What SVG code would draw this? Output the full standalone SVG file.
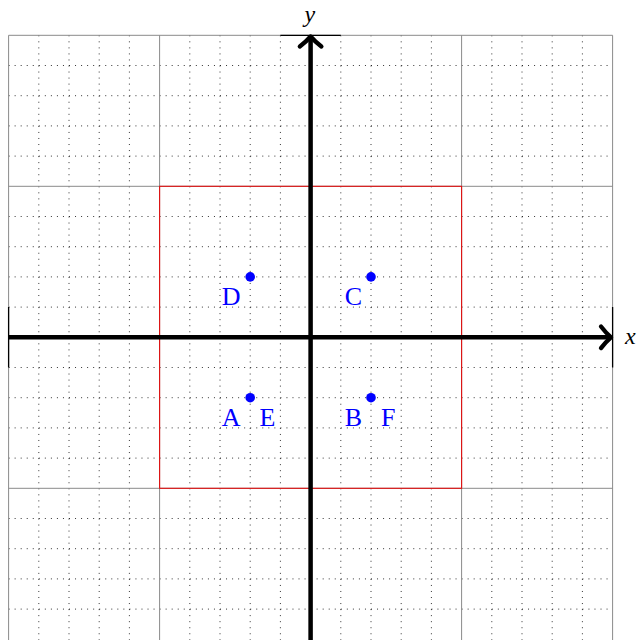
<svg xmlns="http://www.w3.org/2000/svg" width="638" height="640" viewBox="0 0 638 640">
<style>
.minor{stroke:#000;stroke-width:0.8;stroke-dasharray:1 5.04;fill:none}
.major{stroke:#8a8a8a;stroke-width:1;fill:none}
.bar{stroke:#000;stroke-width:1.3;fill:none}
.axis{stroke:#000;stroke-width:4.5;fill:none}
.head{stroke:#000;stroke-width:4.3;fill:none;stroke-linecap:round;stroke-linejoin:round}
.pt{fill:#0000ff}
.lbl{font-family:"Liberation Serif",serif;font-size:26px;fill:#0000ff}
.ax{font-family:"Liberation Serif",serif;font-size:24px;font-style:italic;fill:#000}
</style>
<rect width="638" height="640" fill="#fff"/>
<g id="grid">
<g class="minor">
<path d="M38.8 35.3V640M69 35.3V640M99.2 35.3V640M129.4 35.3V640M189.8 35.3V640M220 35.3V640M250.2 35.3V640M280.4 35.3V640M340.8 35.3V640M371 35.3V640M401.2 35.3V640M431.4 35.3V640M491.8 35.3V640M522 35.3V640M552.2 35.3V640M582.4 35.3V640"/>
<path d="M8.6 65.5H612.6M8.6 95.7H612.6M8.6 125.9H612.6M8.6 156.1H612.6M8.6 216.5H612.6M8.6 246.7H612.6M8.6 276.9H612.6M8.6 307.1H612.6M8.6 367.5H612.6M8.6 397.7H612.6M8.6 427.9H612.6M8.6 458.1H612.6M8.6 518.5H612.6M8.6 548.7H612.6M8.6 578.9H612.6M8.6 609.1H612.6"/>
</g>
<g class="major">
<path d="M8.6 35.3V640M159.6 35.3V640M461.6 35.3V640M612.6 35.3V640"/>
<path d="M8.6 35.3H612.6M8.6 186.3H612.6M8.6 488.3H612.6"/>
</g>
</g>
<rect id="square" x="159.6" y="186.3" width="302" height="302" fill="none" stroke="#e01010" stroke-width="1.1"/>
<g id="connectors">
<path class="bar" d="M8.6 307.1V367.5M612.6 307.1V367.5M280.4 35.3H340.8"/>
<path class="axis" d="M8.6 337.3H610M310.6 640V38"/>
<path class="head" d="M601 326.5Q606 333 611 337.3Q606 341.6 601 348.1"/>
<path class="head" d="M299.8 46.5Q306.3 41.5 310.6 36.5Q314.9 41.5 321.4 46.5"/>
</g>
<g id="labels-axes">
<text class="ax" x="625" y="344">x</text>
<text class="ax" x="304.5" y="22">y</text>
</g>
<g id="D"><circle class="pt" cx="250.2" cy="276.9" r="4.8"/><text class="lbl" x="240.5" y="305" text-anchor="end">D</text></g>
<g id="C"><circle class="pt" cx="371" cy="276.9" r="4.8"/><text class="lbl" x="362" y="305" text-anchor="end">C</text></g>
<g id="A"><circle class="pt" cx="250.2" cy="397.7" r="4.8"/><text class="lbl" x="240.5" y="426" text-anchor="end">A</text></g>
<g id="E"><text class="lbl" x="259.5" y="426">E</text></g>
<g id="B"><circle class="pt" cx="371" cy="397.7" r="4.8"/><text class="lbl" x="362" y="426" text-anchor="end">B</text></g>
<g id="F"><text class="lbl" x="381" y="426">F</text></g>
</svg>
